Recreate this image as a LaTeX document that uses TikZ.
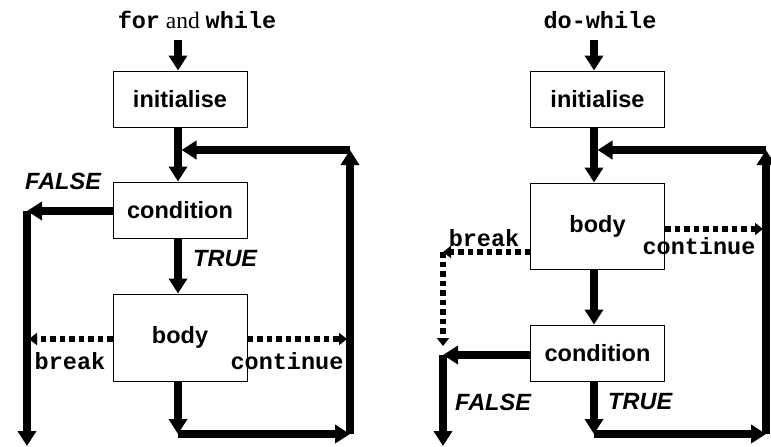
\documentclass[tikz,border=0pt]{standalone}
\usepackage{fontspec}
\setmainfont{Liberation Serif}
\setsansfont{Liberation Sans}
\setmonofont{Liberation Mono}
\usetikzlibrary{arrows.meta,positioning}

\begin{document}
\begin{tikzpicture}[x=1pt,y=-1pt,
  font=\fontsize{23.5}{28}\selectfont,
  box node/.style={draw,line width=1pt,minimum width=134pt,minimum height=56pt,
    inner sep=0pt,font=\fontsize{23.5}{28}\selectfont\sffamily\bfseries},
  flow/.style={line width=7.5pt,-{Triangle[length=15pt,width=18pt]}},
  jump/.style={line width=6pt,dash pattern=on 5.5pt off 4pt,
    -{Triangle[length=8pt,width=12pt]}},
  word/.style={inner sep=0pt,font=\fontsize{23.5}{28}\selectfont\ttfamily\bfseries},
  answer/.style={inner sep=0pt,anchor=west,
    font=\fontsize{23.5}{28}\selectfont\sffamily\bfseries\itshape}]

  \useasboundingbox (0,0) rectangle (771,447);

  % for and while
  \node (title1) at (197,20) {\texttt{\textbf{for}} and \texttt{\textbf{while}}};
  \node[box node] (init1) at (180,99) {initialise};
  \node[box node,below=54pt of init1] (cond1) {condition};
  \node[box node,minimum height=87pt,below=55pt of cond1] (body1) {body};

  \coordinate (in1) at (178,40);
  \coordinate (back1) at (181.5,150);
  \coordinate (top1) at (350,150);
  \coordinate (bot1) at (350,434);
  \coordinate (turn1) at (178,434);
  \coordinate (false1) at (27,211);
  \coordinate (exit1) at (27,446);
  \coordinate (brk1) at (29,339);
  \coordinate (cnt1) at (347,339);

  \draw[flow] (in1) -- (init1.north -| in1);
  \draw[flow] (init1.south -| in1) -- (cond1.north -| in1);
  \draw[flow] (cond1.south -| in1) -- (body1.north -| in1);
  \draw[flow] (body1.south -| in1) -- (turn1);
  \draw[flow] (turn1) -- (bot1);
  \draw[flow] (bot1) -- (top1);
  \draw[flow] (top1) -- (back1);
  \draw[flow] (cond1.west |- false1) -- (false1);
  \draw[flow] (false1) -- (exit1);
  \draw[jump] (body1.west |- brk1) -- (brk1);
  \draw[jump] (body1.east |- cnt1) -- (cnt1);

  \node[answer] (false lbl1) at (25,181) {FALSE};
  \node[answer] (true lbl1) at (193,259) {TRUE};
  \node[word] (brk lbl1) at (70,361) {break};
  \node[word] (cnt lbl1) at (287,361) {continue};

  % do-while
  \node (title2) at (600,20) {\texttt{\textbf{do-while}}};
  \node[box node] (init2) at (597.5,99) {initialise};
  \node[box node,minimum height=86pt,below=55pt of init2] (body2) {body};
  \node[box node,below=55pt of body2] (cond2) {condition};

  \coordinate (in2) at (594,40);
  \coordinate (back2) at (597.5,150);
  \coordinate (top2) at (766,150);
  \coordinate (bot2) at (766,434);
  \coordinate (turn2) at (594,434);
  \coordinate (cnt2) at (763,229);
  \coordinate (brk2) at (443,252);
  \coordinate (drop2) at (443,346);
  \coordinate (false2) at (443,355);
  \coordinate (exit2) at (443,446);

  \draw[flow] (in2) -- (init2.north -| in2);
  \draw[flow] (init2.south -| in2) -- (body2.north -| in2);
  \draw[flow] (body2.south -| in2) -- (cond2.north -| in2);
  \draw[flow] (cond2.south -| in2) -- (turn2);
  \draw[flow] (turn2) -- (bot2);
  \draw[flow] (bot2) -- (top2);
  \draw[flow] (top2) -- (back2);
  \draw[flow] (cond2.west |- false2) -- (false2);
  \draw[flow] (false2) -- (exit2);
  \draw[jump] (body2.east |- cnt2) -- (cnt2);
  \draw[jump] (body2.west |- brk2) -- (brk2);
  \draw[jump] (brk2) -- (drop2);

  \node[word] (brk lbl2) at (484,238) {break};
  \node[word] (cnt lbl2) at (699,246) {continue};
  \node[answer] (false lbl2) at (455,402) {FALSE};
  \node[answer] (true lbl2) at (608,402) {TRUE};
\end{tikzpicture}
\end{document}
